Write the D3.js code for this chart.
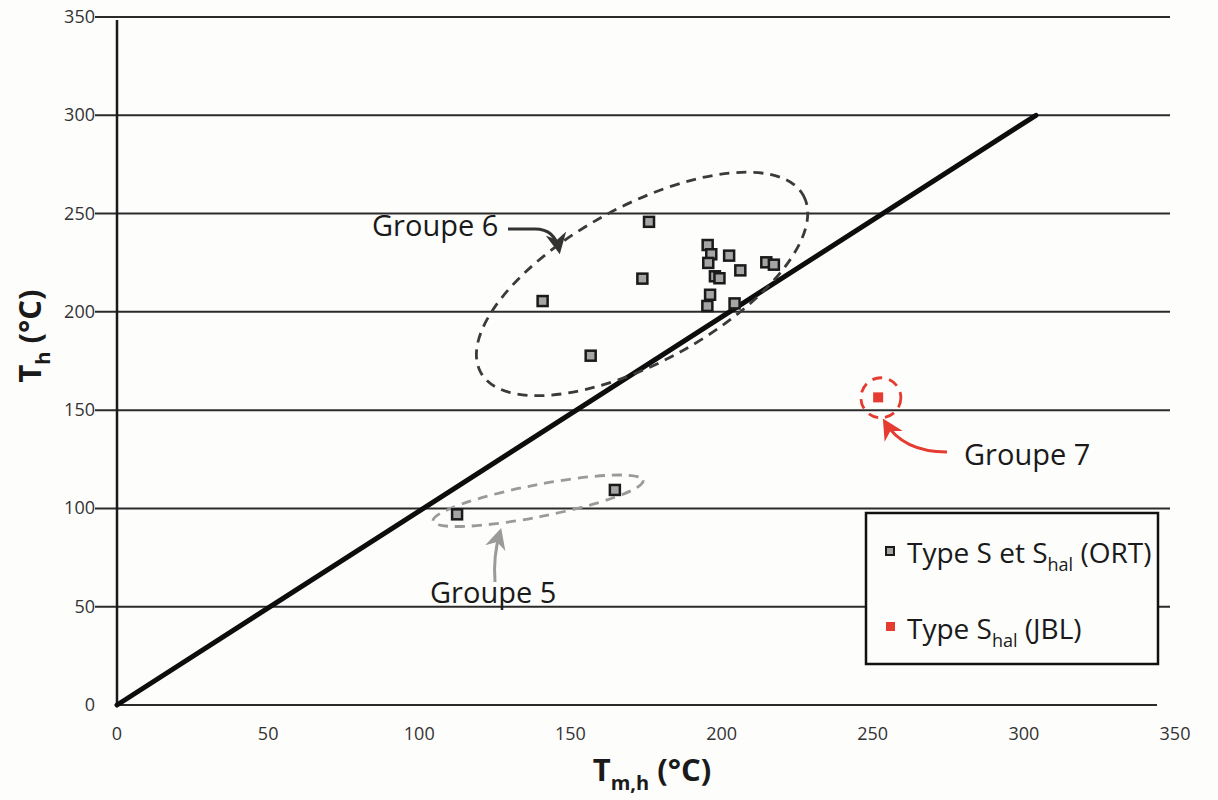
<!DOCTYPE html>
<html><head><meta charset="utf-8">
<script src="https://cdn.jsdelivr.net/npm/d3@7"></script>
<style>
html,body{margin:0;padding:0;background:#fdfdfc;}
svg{display:block;}
text{font-family:"Open Sans",sans-serif;}
</style></head>
<body>
<script>
// ---- data ----
const xTicks = [0, 50, 100, 150, 200, 250, 300, 350];
const yTicks = [0, 50, 100, 150, 200, 250, 300, 350];
// Type S et S_hal (ORT)
const ortTm = [176.0, 195.4, 196.6, 202.5, 195.6, 214.8, 217.3, 173.8, 206.2, 197.8, 199.3, 196.2, 195.3, 204.3, 140.8, 156.7, 112.5, 164.7];
const ortTh = [245.8, 234.0, 229.3, 228.6, 224.9, 225.2, 224.0, 216.9, 221.1, 218.1, 217.1, 208.7, 203.0, 204.3, 205.5, 177.7, 97.0, 109.4];
// Type S_hal (JBL)
const jblTm = [251.8];
const jblTh = [156.5];
// reference line
const lineTm = [0, 304];
const lineTh = [0, 300];

const W = 1218, H = 800;
const svg = d3.select("body").append("svg").attr("width", W).attr("height", H);

const x = d3.scaleLinear().domain([0, 350]).range([117, 1175]);
const y = d3.scaleLinear().domain([0, 350]).range([705, 17]);

// gridlines
const grid = svg.append("g");
grid.selectAll("line").data(yTicks.filter(d => d > 0)).join("line")
  .attr("x1", 95).attr("x2", 1170)
  .attr("y1", d => y(d)).attr("y2", d => y(d))
  .attr("stroke", "#2b2b2b").attr("stroke-width", 2);
// x axis line
svg.append("line").attr("x1", 117).attr("x2", 1157).attr("y1", y(0)).attr("y2", y(0))
  .attr("stroke", "#2b2b2b").attr("stroke-width", 2.2);
// y axis line
svg.append("line").attr("x1", 117).attr("x2", 117).attr("y1", 20).attr("y2", y(0))
  .attr("stroke", "#1a1a1a").attr("stroke-width", 2.5);

// tick labels
svg.append("g").selectAll("text").data(yTicks).join("text")
  .attr("x", 95).attr("y", d => y(d) + 6)
  .attr("text-anchor", "end").attr("font-size", 18).attr("fill", "#333")
  .text(d => d);
svg.append("g").selectAll("text").data(xTicks).join("text")
  .attr("x", d => x(d)).attr("y", 740)
  .attr("text-anchor", "middle").attr("font-size", 18).attr("fill", "#333")
  .text(d => d);

// axis titles
const xt = svg.append("text").attr("x", 652).attr("y", 781).attr("text-anchor", "middle")
  .attr("font-size", 31).attr("font-weight", "bold").attr("fill", "#1a1a1a");
xt.append("tspan").text("T");
xt.append("tspan").attr("font-size", 20).attr("dy", 9).text("m,h");
xt.append("tspan").attr("dy", -9).text(" (°C)");

const yt = svg.append("text").attr("transform", "translate(41,336) rotate(-90)").attr("text-anchor", "middle")
  .attr("font-size", 31).attr("font-weight", "bold").attr("fill", "#1a1a1a");
yt.append("tspan").text("T");
yt.append("tspan").attr("font-size", 20).attr("dy", 9).text("h");
yt.append("tspan").attr("dy", -9).text(" (°C)");

// reference line
svg.append("path")
  .attr("d", d3.line().x(d => x(d[0])).y(d => y(d[1]))(d3.zip(lineTm, lineTh)))
  .attr("stroke", "#0d0d0d").attr("stroke-width", 5).attr("fill", "none").attr("stroke-linecap", "round");

// ellipses (annotations)
const ellipses = [
  {cx: 173.7, cy: 214.2, rx: 184, ry: 78, rot: -28.7, color: "#3a3a3a"},
  {cx: 139.3, cy: 103.9, rx: 107, ry: 16, rot: -11, color: "#9a9a9a"},
  {cx: 252.7, cy: 156.3, rx: 20, ry: 20, rot: 0, color: "#e53b30"}
];
svg.append("g").selectAll("ellipse").data(ellipses).join("ellipse")
  .attr("transform", d => `translate(${x(d.cx)},${y(d.cy)}) rotate(${d.rot})`)
  .attr("rx", d => d.rx).attr("ry", d => d.ry)
  .attr("fill", "none").attr("stroke", d => d.color).attr("stroke-width", 2.8)
  .attr("stroke-dasharray", "10,7");

// points
const ort = d3.zip(ortTm, ortTh);
svg.append("g").selectAll("rect").data(ort).join("rect")
  .attr("x", d => x(d[0]) - 5).attr("y", d => y(d[1]) - 5)
  .attr("width", 10).attr("height", 10)
  .attr("fill", "#a5a5a5").attr("stroke", "#1a1a1a").attr("stroke-width", 2.5);
const jbl = d3.zip(jblTm, jblTh);
svg.append("g").selectAll("rect").data(jbl).join("rect")
  .attr("x", d => x(d[0]) - 5).attr("y", d => y(d[1]) - 5)
  .attr("width", 10).attr("height", 10)
  .attr("fill", "#e53b30");

// arrows & labels
const defs = svg.append("defs");
function marker(id, color) {
  defs.append("marker").attr("id", id).attr("viewBox", "0 0 10 10").attr("refX", 8).attr("refY", 5)
    .attr("markerWidth", 7).attr("markerHeight", 7).attr("orient", "auto-start-reverse")
    .attr("markerUnits", "strokeWidth")
    .append("path").attr("d", "M0,0 L10,5 L0,10 L3,5 Z").attr("fill", color);
}
marker("a6", "#333");
marker("a5", "#9a9a9a");
marker("a7", "#e53b30");

svg.append("path").attr("d", "M508,229 L535,229 Q555,229 559,250")
  .attr("fill", "none").attr("stroke", "#333").attr("stroke-width", 3).attr("marker-end", "url(#a6)");
svg.append("path").attr("d", "M495,582 Q493,556 500,532")
  .attr("fill", "none").attr("stroke", "#9a9a9a").attr("stroke-width", 3).attr("marker-end", "url(#a5)");
svg.append("path").attr("d", "M947,452 Q903,452 885,422")
  .attr("fill", "none").attr("stroke", "#e53b30").attr("stroke-width", 3).attr("marker-end", "url(#a7)");

const labels = [
  {t: "Groupe 6", x: 372, y: 236},
  {t: "Groupe 5", x: 430, y: 603},
  {t: "Groupe 7", x: 964, y: 465}
];
svg.append("g").selectAll("text").data(labels).join("text")
  .attr("x", d => d.x).attr("y", d => d.y).attr("font-size", 29).attr("fill", "#1a1a1a")
  .text(d => d.t);

// legend
const lg = svg.append("g");
lg.append("rect").attr("x", 866).attr("y", 513).attr("width", 292).attr("height", 151)
  .attr("fill", "#fdfdfc").attr("stroke", "#111").attr("stroke-width", 2.5);
lg.append("rect").attr("x", 886).attr("y", 547).attr("width", 8).attr("height", 8)
  .attr("fill", "#a5a5a5").attr("stroke", "#1a1a1a").attr("stroke-width", 2);
lg.append("rect").attr("x", 886).attr("y", 622).attr("width", 9).attr("height", 9)
  .attr("fill", "#e53b30");
const l1 = lg.append("text").attr("x", 907).attr("y", 563).attr("font-size", 28).attr("fill", "#1a1a1a");
l1.append("tspan").text("Type S et S");
l1.append("tspan").attr("font-size", 18).attr("dy", 8).text("hal");
l1.append("tspan").attr("dy", -8).text(" (ORT)");
const l2 = lg.append("text").attr("x", 907).attr("y", 639).attr("font-size", 28).attr("fill", "#1a1a1a");
l2.append("tspan").text("Type S");
l2.append("tspan").attr("font-size", 18).attr("dy", 8).text("hal");
l2.append("tspan").attr("dy", -8).text(" (JBL)");
</script>
</body></html>
